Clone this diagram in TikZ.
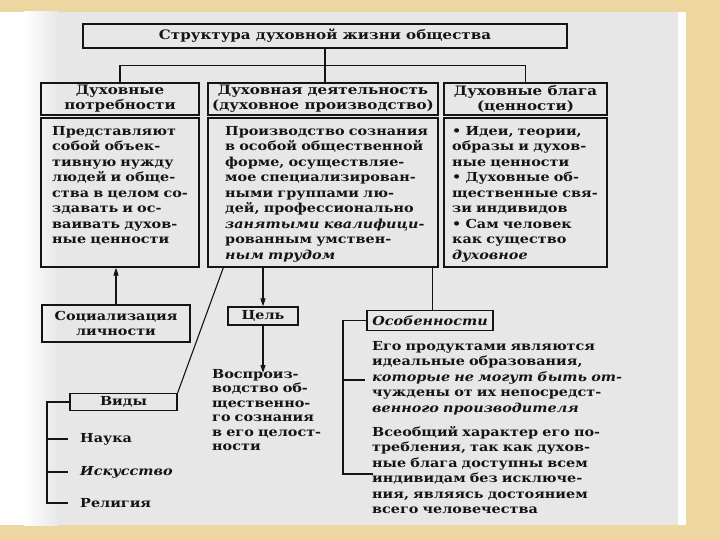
\documentclass[tikz,border=0pt]{standalone}
\usepackage{fontspec}
\setmainfont{DejaVu Serif}[FakeStretch=1.16]
\usetikzlibrary{arrows.meta,calc}
\definecolor{beige}{RGB}{238,214,160}
\definecolor{pagegrey}{RGB}{231,231,231}
\definecolor{ink}{RGB}{20,20,20}
\newcommand\jl[1]{\makebox[\hsize][s]{#1}}
\newcommand\lf[1]{\makebox[\hsize][l]{#1}}
\begin{document}
\begin{tikzpicture}[x=1pt,y=-1pt,
  every node/.style={text=ink},
  fnt/.style={font=\fontsize{12.4}{15.5}\selectfont\bfseries},
  hfnt/.style={font=\fontsize{13}{15}\selectfont\bfseries},
  box/.style={draw=ink, line width=1.3pt, inner sep=0pt, fnt, align=center},
  hbox/.style={box, hfnt},
  txt/.style={fnt, inner sep=0pt, anchor=north west, align=left},
  item/.style={fnt, inner sep=0pt, anchor=west},
  conn/.style={draw=ink, line width=1.1pt},
  arr/.style={conn, -{Triangle[length=8pt,width=5pt]}}]
\useasboundingbox (0,0) rectangle (720,540);
% background
\fill[beige] (0,0) rectangle (720,540);
\fill[pagegrey] (0,12) rectangle (678,525);
\fill[white] (0,12) rectangle (24,525);
\shade[left color=white, right color=pagegrey] (24,12) rectangle (58,525);
\fill[white] (678,12) rectangle (686,525);

% title
\node[hbox, minimum width=484pt, minimum height=24pt] (title) at (325,36) {Структура духовной жизни общества};

% headers
\node[hbox, minimum width=158pt, minimum height=32pt] (h1) at (120,99) {Духовные\\потребности};
\node[hbox, minimum width=230pt, minimum height=32pt] (h2) at (323,99) {Духовная деятельность\\(духовное производство)};
\node[hbox, minimum width=163pt, minimum height=32pt] (h3) at (525.5,99) {Духовные блага\\(ценности)};

% content boxes
\node[box, minimum width=158pt, minimum height=149pt] (c1) at (120,192.5) {};
\node[box, minimum width=230pt, minimum height=149pt] (c2) at (323,192.5) {};
\node[box, minimum width=163pt, minimum height=149pt] (c3) at (525.5,192.5) {};

\node[txt, text width=141pt] (t1) at (52,126) {\jl{Представляют}\\\jl{собой объек-}\\\jl{тивную нужду}\\\jl{людей и обще-}\\\jl{ства в целом со-}\\\jl{здавать и ос-}\\\jl{ваивать духов-}\\\lf{ные ценности}};
\node[txt, text width=205pt] (t2) at (225,126) {\jl{Производство сознания}\\\jl{в особой общественной}\\\jl{форме, осуществляе-}\\\jl{мое специализирован-}\\\jl{ными группами лю-}\\\jl{дей, профессионально}\\\jl{\itshape занятыми квалифици-}\\\jl{рованным умствен-}\\\lf{\itshape ным трудом}};
\node[txt, text width=146pt] (t3) at (452,126) {\jl{• Идеи, теории,}\\\jl{образы и духов-}\\\lf{ные ценности}\\\jl{• Духовные об-}\\\jl{щественные свя-}\\\lf{зи индивидов}\\\lf{• Сам человек}\\\lf{как существо}\\\lf{\itshape духовное}};

% top connectors
\draw[conn] (title.south) -- (title.south |- h2.north);
\draw[conn] (h1.north) -- ++(0,-17) -| (h3.north);

% lower left
\node[box, minimum width=148pt, minimum height=37pt] (soc) at (116,323.5) {Социализация\\личности};
\draw[arr] (soc.north) -- (soc.north |- c1.south);

\node[box, minimum width=107pt, minimum height=17pt] (vid) at (123.5,402) {Виды};
\coordinate (slant) at ($(c2.south west)+(16,0)$);
\draw[conn] (slant) -- (vid.north east);
\node[item] (nau) at (80,439) {Наука};
\node[item] (isk) at (80,472) {\itshape Искусство};
\node[item] (rel) at (80,503) {Религия};
\coordinate (vb) at (47,402);
\draw[conn] (vid.west) -- (vb) |- ([xshift=-12pt]rel.west);
\draw[conn] (vb |- nau.west) -- ([xshift=-12pt]nau.west);
\draw[conn] (vb |- isk.west) -- ([xshift=-12pt]isk.west);

% goal
\node[box, minimum width=70pt, minimum height=18pt] (cel) at (263,316) {Цель};
\draw[arr] (cel.north |- c2.south) -- (cel.north);
\node[txt, text width=104pt, font=\fontsize{12.4}{14.5}\selectfont\bfseries] (goal) at (212,369) {\lf{Воспроиз-}\\\jl{водство об-}\\\lf{щественно-}\\\jl{го сознания}\\\jl{в его целост-}\\\lf{ности}};
\draw[arr] (cel.south) -- ([yshift=-4pt]cel.south |- goal.north);

% features
\node[box, minimum width=126pt, minimum height=20pt, font=\fontsize{12.4}{15.5}\selectfont\bfseries\itshape] (osob) at (430,320.5) {Особенности};
\coordinate (oc) at ($(c2.south east)+(-6,0)$);
\draw[conn] (oc) -- (oc |- osob.north);
\node[txt, text width=236pt] (ob1) at (372,341) {\jl{Его продуктами являются}\\\jl{идеальные образования,}\\\jl{\itshape которые не могут быть от-}\\\jl{чуждены от их непосредст-}\\\lf{\itshape венного производителя}};
\node[txt, text width=236pt] (ob2) at (372,426) {\jl{Всеобщий характер его по-}\\\jl{требления, так как духов-}\\\jl{ные блага доступны всем}\\\jl{индивидам без исключе-}\\\jl{ния, являясь достоянием}\\\lf{всего человечества}};
\coordinate (ob) at (343,320.5);
\coordinate (b1) at (365,380);
\draw[conn] (osob.west) -- (ob) |- (373,474);
\draw[conn] (ob |- b1) -- (b1);
\end{tikzpicture}
\end{document}
